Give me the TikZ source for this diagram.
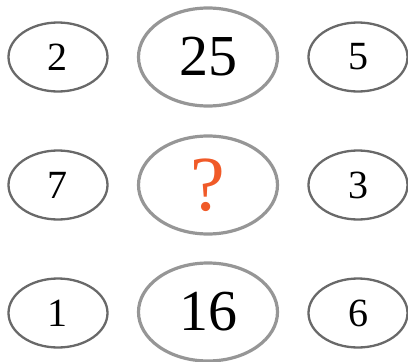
\documentclass[tikz,border=0pt]{standalone}
\usepackage{fontspec}
\setmainfont{Liberation Serif}
\usetikzlibrary{shapes.geometric}
\definecolor{rimdark}{RGB}{105,105,105}
\definecolor{rimlight}{RGB}{150,150,150}
\definecolor{quest}{RGB}{240,90,40}

\begin{document}
\begin{tikzpicture}[x=1pt,y=-1pt,
  sm/.style={draw=rimdark, ellipse, line width=2.3pt, minimum width=99pt, minimum height=69pt, inner sep=0pt, font=\fontsize{40}{44}\selectfont},
  bg/.style={draw=rimlight, ellipse, line width=3.2pt, minimum width=139pt, minimum height=98pt, inner sep=0pt, font=\fontsize{58}{62}\selectfont},
]
\useasboundingbox (0,0) rectangle (408,362);
\node[sm] (L1) at (58,57)  {2};
\node[bg] (C1) at (208,57) {25};
\node[sm] (R1) at (358,57) {5};
\node[sm] (L2) at (58,185)  {7};
\node[bg] (C2) at (208,185) {\fontsize{78}{80}\selectfont\textcolor{quest}{?}};
\node[sm] (R2) at (358,185) {3};
\node[sm] (L3) at (58,313)  {1};
\node[bg] (C3) at (208,312) {16};
\node[sm] (R3) at (358,313) {6};
\end{tikzpicture}
\end{document}
